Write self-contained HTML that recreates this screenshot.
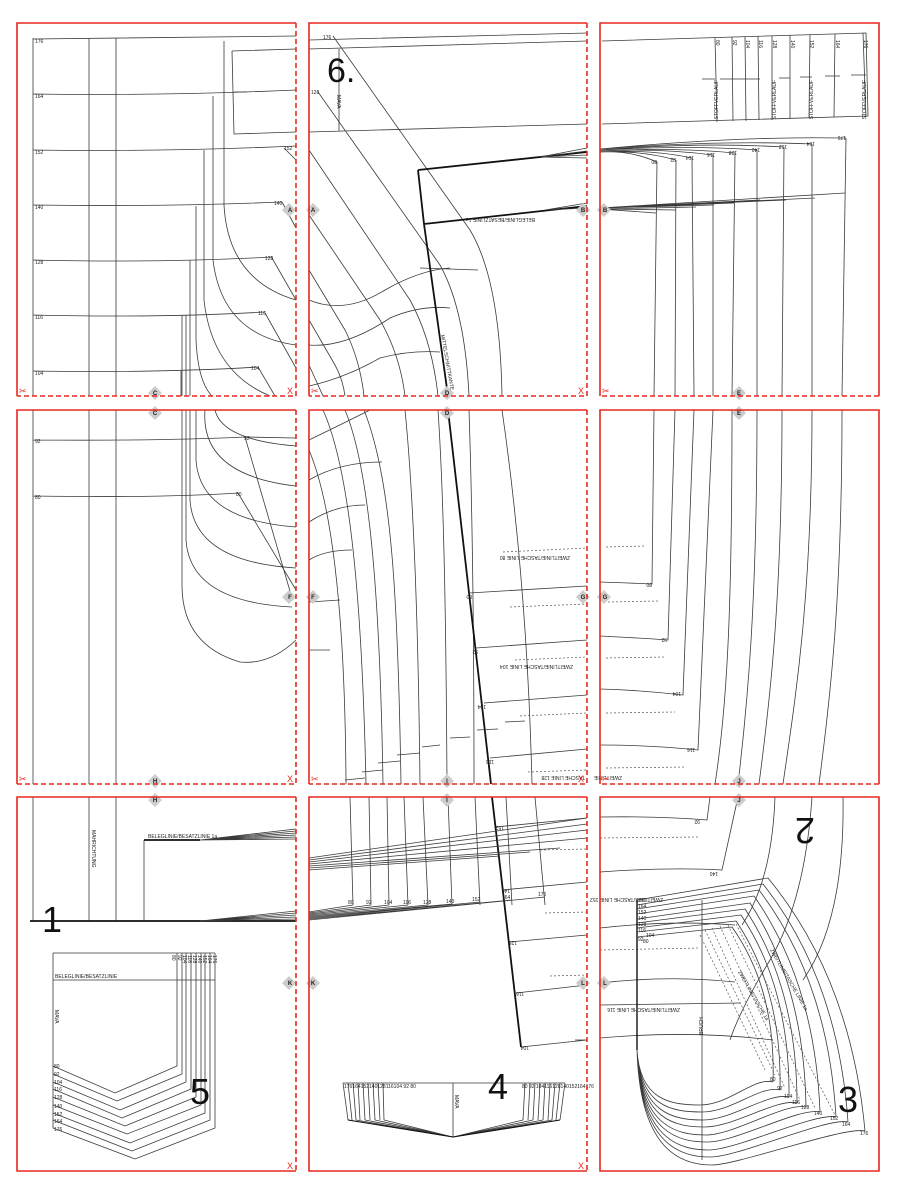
<!DOCTYPE html>
<html><head><meta charset="utf-8"><style>
html,body{margin:0;padding:0;background:#fff}
svg{display:block}
text{font-family:"Liberation Sans",sans-serif}
.l{fill:none;stroke:#3a3a3a;stroke-width:.8}
.t{fill:none;stroke:#111;stroke-width:1.8}
.d{fill:none;stroke:#555;stroke-width:.7;stroke-dasharray:2 2}
.rs{stroke:#e8281e;stroke-width:1.6;fill:none}
.rd{stroke:#e8281e;stroke-width:1.6;fill:none;stroke-dasharray:5 3}
.s{font-size:5px;fill:#222}
.m{fill:#ccc}
.ml{font-size:6px;font-weight:bold;fill:#222;text-anchor:middle}
.big{font-size:36px;fill:#111}
.x{font-size:9px;fill:#e8281e}
</style></head><body>
<svg width="900" height="1200" viewBox="0 0 900 1200" xmlns="http://www.w3.org/2000/svg">
<rect width="900" height="1200" fill="#fff"/>

<!-- ========== PANEL 1 ========== -->
<g>
<path class="l" d="M33,39 Q160,38 296,36 M33,94 Q160,96 296,90 M33,150 Q160,152 296,146 M33,205 Q160,207 282,202 M33,260 Q160,263 272,257 M33,315 Q160,318 265,312 M33,371 Q160,373 258,367"/>
<path class="l" d="M33,38 V396 M89,38 V396 M116,38 V396"/>
<path class="l" d="M232,51 L296,49 M232,51 L234,134 L296,132 M234,92 H247"/>
<path class="l" d="M224,41 V205 Q228,280 296,300 M213,96 V260 Q222,335 296,345 M204,150 V300 Q212,372 270,396 M196,206 V340 Q198,382 212,396 M190,260 V396 M186,315 V396 M182,315 V396 M181,371 V396"/>
<path class="l" d="M284,148 L296,160 M282,202 L296,228 M272,258 L296,300 M265,313 L296,368 M258,367 L275,396"/>
<text class="s" x="35" y="43">176</text><text class="s" x="35" y="98">164</text><text class="s" x="35" y="154">152</text><text class="s" x="35" y="209">140</text><text class="s" x="35" y="264">128</text><text class="s" x="35" y="319">116</text><text class="s" x="35" y="375">104</text>
<text class="s" x="284" y="150">152</text><text class="s" x="274" y="205">140</text><text class="s" x="265" y="260">128</text><text class="s" x="258" y="315">116</text><text class="s" x="251" y="370">104</text>
</g>

<!-- ========== PANEL 2 ========== -->
<g>
<path class="l" d="M309,40 L587,33 M309,49 L587,41 M309,132 L587,124 M339,49 V131"/>
<path class="l" d="M333,36 L470,230 Q500,280 502,396 M318,92 L440,265 Q465,310 469,396 M309,150 L410,300 Q432,340 438,396 M309,215 L380,320 Q400,355 405,396 M309,270 L345,330 Q360,360 364,396 M309,320 L335,365 Q343,380 345,396 M309,365 L323,396"/>
<path class="l" d="M309,300 Q345,315 385,290 Q420,270 450,268 M309,345 Q345,348 390,318 Q420,305 450,308 M309,386 Q345,378 380,358 Q410,350 440,352 M420,268 L478,270"/>
<path class="t" d="M418,170 L587,152 M424,224 L587,206 M418,170 L424,224 L448,396"/>
<path class="l" d="M540,157 L587,148 M540,157 L587,151 M540,157 L587,155 M540,157 L587,158 M545,210 L587,203 M545,210 L587,208"/>
<text class="big" x="327" y="82" style="font-size:34px">6.</text>
<text class="s" transform="translate(337,95) rotate(90)">MAVA</text>
<text class="s" x="323" y="39">176</text><text class="s" x="311" y="94">128</text>
<text class="s" transform="translate(535,218) rotate(180)">BELEGLINIE/BESATZLINIE 1a</text>
<text class="s" transform="translate(441,335) rotate(80)">MITTELSCHNITTKANTE</text>
</g>

<!-- ========== PANEL 3 ========== -->
<g>
<path class="l" d="M602,41 L866,33 L868,116 L602,124"/>
<path class="l" d="M715,38 L717,122 M732,37 L733,121 M745,37 L746,121 M758,36 L759,120 M772,36 L772,120 M790,35 L790,119 M810,35 L809,118 M835,34 L834,117 M863,33 L866,117"/>
<path class="l" d="M702,79 H715 M720,79 H760 M779,78 H790 M800,77 H812 M825,76 H840 M851,75 H866"/>
<g class="s"><text transform="translate(716,40) rotate(90)">80</text><text transform="translate(733,40) rotate(90)">92</text><text transform="translate(746,40) rotate(90)">104</text><text transform="translate(759,40) rotate(90)">116</text><text transform="translate(773,40) rotate(90)">128</text><text transform="translate(791,40) rotate(90)">140</text><text transform="translate(810,40) rotate(90)">152</text><text transform="translate(836,40) rotate(90)">164</text><text transform="translate(864,40) rotate(90)">176</text>
<text transform="translate(718,80) rotate(-90)" text-anchor="end">STOFFVERLAUF</text><text transform="translate(776,80) rotate(-90)" text-anchor="end">STOFFVERLAUF</text><text transform="translate(813,80) rotate(-90)" text-anchor="end">STOFFVERLAUF</text><text transform="translate(866,80) rotate(-90)" text-anchor="end">STOFFVERLAUF</text></g>
<path class="l" d="M600,152 Q630,150 657,162 M600,152 Q640,150 676,160 M600,152 Q650,149 692,158 M600,151 Q660,148 713,155 M600,151 Q670,147 735,153 M600,150 Q690,145 757,150 M600,150 Q700,142 784,147 M600,149 Q720,140 812,144 M600,149 Q740,136 842,138"/>
<path class="l" d="M657,162 L654,396 M676,160 L675,396 M692,158 L694,396 M713,155 L713,396 M735,153 L732,396 M757,150 L757,396 M784,147 L782,396 M812,144 L812,396 M846,138 L842,396 M842,138 H846"/>
<path class="l" d="M600,209 L656,213 M600,209 L676,210 M600,209 L696,207 M600,208 L714,205 M600,208 L734,203 M600,208 L760,200 M600,208 L786,200 M600,208 L815,198 M600,208 L845,193"/>
<g class="s"><text transform="translate(657,160) rotate(180)">80</text><text transform="translate(676,158) rotate(180)">92</text><text transform="translate(694,156) rotate(180)">104</text><text transform="translate(715,153) rotate(180)">116</text><text transform="translate(737,151) rotate(180)">128</text><text transform="translate(760,148) rotate(180)">140</text><text transform="translate(787,145) rotate(180)">152</text><text transform="translate(815,142) rotate(180)">164</text><text transform="translate(846,136) rotate(180)">176</text></g>
</g>

<!-- ========== PANEL 4 ========== -->
<g>
<path class="l" d="M33,410 V784 M89,410 V784 M116,410 V784 M33,440 Q160,441 245,437 L296,438 M33,496 Q160,498 238,493"/>
<path class="l" d="M215,410 Q222,440 296,446 M205,410 Q200,475 296,486 M196,410 V460 Q200,520 296,527 M190,410 V500 Q194,562 296,568 M186,410 V540 Q190,602 292,607 M182,410 V585 Q182,645 240,662 Q270,665 296,640"/>
<path class="l" d="M245,437 L292,598 M238,493 L296,590"/>
<text class="s" x="35" y="443">92</text><text class="s" x="35" y="499">80</text>
<text class="s" x="244" y="440">92</text><text class="s" x="236" y="496">80</text>
</g>

<!-- ========== PANEL 5 ========== -->
<g>
<path class="l" d="M309,450 C330,500 345,600 346,784 M323,410 C350,470 362,600 366,784 M345,410 C370,470 380,600 383,784 M364,410 C392,480 398,600 401,784 M405,410 C412,480 418,600 420,784 M438,410 C444,500 446,620 447,784 M469,410 C472,500 474,620 474,784 M502,410 C515,500 528,620 532,784"/>
<path class="t" d="M448,410 L491,784"/>
<path class="l" d="M309,440 Q340,425 370,410 M309,480 Q340,462 382,462 M309,522 Q335,505 365,505 M309,560 Q325,550 352,550 M309,602 L340,600 M309,650 L330,650"/>
<path class="l" d="M469,593 L587,586 M476,648 L587,640 M484,703 L587,695 M490,758 L587,749"/>
<path class="l" d="M345,780 L365,778 M362,772 L383,770 M378,763 L400,761 M397,755 L420,753 M422,747 L440,745 M450,738 L470,737 M477,730 L498,729 M505,722 L525,721"/>
<path class="d" d="M503,552 L587,548 M510,607 L587,604 M515,660 L587,657 M520,716 L587,713 M528,772 L587,770"/>
<g class="s"><text transform="translate(570,556) rotate(180)">ZWEITLINIE/TASCHE LINIE 80</text><text transform="translate(573,665) rotate(180)">ZWEITLINIE/TASCHE LINIE 104</text><text transform="translate(585,776) rotate(180)">TASCHE LINIE 128</text>
<text transform="translate(472,595) rotate(180)">80</text><text transform="translate(478,650) rotate(180)">92</text><text transform="translate(486,705) rotate(180)">104</text><text transform="translate(494,760) rotate(180)">116</text></g>
</g>

<!-- ========== PANEL 6 ========== -->
<g>
<path class="l" d="M654,410 L652,584 Q630,583 600,582 M675,410 L668,640 Q640,638 600,636 M694,410 L683,695 Q640,690 600,689 M713,410 L698,750 Q650,745 600,745"/>
<path class="l" d="M732,410 C732,600 728,700 715,784 M757,410 C757,600 748,700 738,784 M782,410 C782,600 770,700 759,784 M812,410 C812,600 795,700 783,784 M842,410 C842,600 830,700 819,784"/>
<path class="d" d="M606,547 L645,546 M608,602 L658,601 M606,658 L665,657 M606,713 L675,712 M606,768 L685,767"/>
<g class="s"><text transform="translate(652,583) rotate(180)">80</text><text transform="translate(667,638) rotate(180)">92</text><text transform="translate(681,692) rotate(180)">104</text><text transform="translate(695,748) rotate(180)">116</text><text transform="translate(622,776) rotate(180)">ZWEITLINIE</text></g>
</g>

<!-- ========== PANEL 7 ========== -->
<g>
<path class="l" d="M33,797 V921 M89,797 V921 M116,797 V921 M144,840 V921"/>
<path class="t" d="M30,921 L296,921 M144,840 L200,840"/>
<path class="l" d="M200,840 L296,829 M200,840 L296,831 M200,840 L296,833 M200,840 L296,835 M200,840 L296,837 M200,840 L296,839 M200,921 L296,911 M200,921 L296,913 M200,921 L296,915 M200,921 L296,917 M200,921 L296,919"/>
<text class="s" x="148" y="838">BELEGLINIE/BESATZLINIE 1a</text>
<text class="s" transform="translate(92,830) rotate(90)">MAHRICHTUNG</text>
<text class="big" x="42" y="932">1</text>
<!-- pocket 5 -->
<path class="l" d="M53,953 H215 M53,980 H215 M53,953 V1128"/>
<path class="l" d="M53,1066 L115,1093 L177,1066 V953 M53,1074 L117,1101 L182,1074 V953 M53,1082 L120,1110 L186,1082 V953 M53,1089 L122,1118 L191,1089 V953 M53,1097 L125,1126 L196,1097 V953 M53,1105 L127,1134 L201,1105 V953 M53,1113 L130,1143 L205,1113 V953 M53,1120 L132,1151 L210,1120 V953 M53,1128 L135,1159 L215,1128 V953"/>
<text class="s" x="55" y="978">BELEGLINIE/BESATZLINIE</text>
<text class="s" transform="translate(55,1010) rotate(90)">MAVA</text>
<g class="s"><text x="54" y="1068">80</text><text x="54" y="1076">92</text><text x="54" y="1084">104</text><text x="54" y="1091">116</text><text x="54" y="1099">128</text><text x="54" y="1108">140</text><text x="54" y="1116">152</text><text x="54" y="1123">164</text><text x="54" y="1131">176</text>
<text transform="translate(172,955) rotate(90)">80</text><text transform="translate(178,955) rotate(90)">92</text><text transform="translate(183,955) rotate(90)">104</text><text transform="translate(188,955) rotate(90)">116</text><text transform="translate(193,955) rotate(90)">128</text><text transform="translate(198,955) rotate(90)">140</text><text transform="translate(203,955) rotate(90)">152</text><text transform="translate(208,955) rotate(90)">164</text><text transform="translate(213,955) rotate(90)">176</text></g>
<text class="big" x="190" y="1104">5</text>
</g>

<!-- ========== PANEL 8 ========== -->
<g>
<path class="l" d="M350,797 L353,905 M369,797 L371,905 M387,797 L389,905 M404,797 L408,905 M423,797 L428,905 M448,797 L452,905 M475,797 L480,905 M506,797 L512,905 M535,797 L545,905"/>
<path class="t" d="M492,797 L521,1047"/>
<path class="l" d="M309,858 L587,818 M309,860 L587,824 M309,862 L587,830 M309,864 L587,838 M309,866 L560,848 M309,868 L530,852 M309,870 L500,856"/>
<path class="l" d="M309,912 L353,905 M309,913 L371,905 M309,914 L389,905 M309,915 L408,905 M309,916 L428,905 M309,917 L452,904 M309,918 L480,902 M309,919 L512,900 M309,920 L545,897"/>
<path class="l" d="M496,827 L587,818 M502,890 L587,882 M509,942 L587,935 M516,993 L587,985 M521,1047 L587,1040 M575,1040 H587"/>
<path class="d" d="M540,850 L587,849 M545,913 L587,912 M550,976 L587,975"/>
<g class="s"><text x="348" y="904">80</text><text x="366" y="904">92</text><text x="384" y="904">104</text><text x="403" y="904">116</text><text x="423" y="904">128</text><text x="446" y="903">140</text><text x="472" y="901">152</text><text x="502" y="899">164</text><text x="538" y="896">176</text>
<text transform="translate(504,826) rotate(180)">152</text><text transform="translate(510,889) rotate(180)">140</text><text transform="translate(517,941) rotate(180)">128</text><text transform="translate(524,992) rotate(180)">116</text><text transform="translate(529,1046) rotate(180)">104</text></g>
<!-- piece 4 -->
<path class="l" d="M343,1083 H565 M453,1083 V1137"/>
<path class="l" d="M343,1083 L348,1120 M348,1083 L352,1120 M353,1083 L356,1120 M358,1083 L360,1120 M363,1083 L365,1120 M368,1083 L370,1120 M373,1083 L375,1120 M378,1083 L380,1120 M383,1083 L384,1120"/>
<path class="l" d="M565,1083 L560,1120 M560,1083 L556,1120 M555,1083 L552,1120 M550,1083 L548,1120 M545,1083 L543,1120 M540,1083 L538,1120 M535,1083 L533,1120 M530,1083 L528,1120 M525,1083 L523,1120"/>
<path class="l" d="M348,1120 L453,1137 M356,1120 L453,1137 M365,1120 L453,1137 M375,1120 L453,1137 M384,1120 L453,1137 M560,1120 L453,1137 M552,1120 L453,1137 M543,1120 L453,1137 M533,1120 L453,1137 M523,1120 L453,1137"/>
<path class="t" style="stroke-width:1.1" d="M348,1120 L453,1137 L560,1120"/>
<text class="s" transform="translate(455,1095) rotate(90)">MAVA</text>
<g class="s"><text x="344" y="1088">176164152140128116104 92 80</text><text x="522" y="1088">80 92 104116128140152164176</text></g>
<text class="big" x="488" y="1099">4</text>
</g>

<!-- ========== PANEL 9 ========== -->
<g>
<path class="l" d="M710,797 L707,820 Q660,816 600,817 M738,797 L722,870 Q670,867 600,872"/>
<path class="d" d="M600,838 L700,837 M600,950 L700,948"/>
<path class="l" d="M775,797 Q772,880 742,925 M812,797 Q805,900 770,960 Q740,1010 730,1040 M843,797 Q845,920 803,980"/>
<path class="l" d="M600,928 Q670,920 735,925 M600,983 Q670,975 735,982 M600,1005 L740,1003 M600,1038 Q690,1030 773,1040 M702,900 V1160"/>
<path class="t" style="stroke-width:1.4" d="M637,900 V1050"/>
<path class="l" d="M637,937 L732,927 Q776,989 773,1082 M637,932 L736,921 Q782,989 780,1090 M637,928 L741,915 Q790,988 789,1097 M637,923 L745,909 Q797,987 797,1103 M637,919 L750,903 Q804,985 806,1107 M637,914 L754,896 Q815,983 820,1112 M637,909 L759,890 Q828,981 836,1117 M637,905 L763,884 Q838,979 848,1122 M637,900 L768,878 Q851,979 865,1131"/>
<path class="l" d="M637,1050 C640,1100 670,1105 700,1105 S753,1077 773,1082 M637,1050 C640,1107 672,1112 702,1112 S760,1085 780,1090 M637,1050 C640,1114 674,1120 703,1120 S769,1092 789,1097 M637,1050 C640,1121 676,1127 705,1127 S777,1098 797,1103 M637,1050 C640,1128 678,1135 706,1135 S786,1102 806,1107 M637,1050 C640,1135 680,1142 708,1142 S800,1107 820,1112 M637,1050 C640,1142 682,1150 709,1150 S816,1112 836,1117 M637,1050 C640,1149 684,1157 711,1157 S828,1117 848,1122 M637,1050 C640,1156 686,1165 712,1165 S845,1126 865,1131"/>
<path class="d" d="M705,930 L775,1075 M712,928 L785,1088 M720,926 L800,1100 M728,925 L815,1108 M736,924 L835,1115 M700,935 L765,1070"/>
<g class="s"><text x="638" y="902">176</text><text x="638" y="908">164</text><text x="638" y="914">152</text><text x="638" y="920">140</text><text x="638" y="926">128</text><text x="638" y="932">116</text><text x="646" y="937">104</text><text x="638" y="941">92</text><text x="643" y="943">80</text>
<text x="770" y="1081">80</text><text x="777" y="1090">92</text><text x="784" y="1098">104</text><text x="792" y="1104">116</text><text x="801" y="1109">128</text><text x="814" y="1115">140</text><text x="830" y="1120">152</text><text x="842" y="1126">164</text><text x="860" y="1135">176</text>
<text transform="translate(663,898) rotate(180)">ZWEITLINIE/TASCHE LINIE 152</text><text transform="translate(680,1008) rotate(180)">ZWEITLINIE/TASCHE LINIE 116</text>
<text transform="translate(703,1035) rotate(-90)">BRUCH</text>
<text transform="translate(770,950) rotate(60)">ZWEITLINIE/TASCHE LINIE 1a</text>
<text transform="translate(738,972) rotate(60)">ZWEITLINIE/TASCHE 1a</text>
<text transform="translate(700,820) rotate(180)">92</text><text transform="translate(718,872) rotate(180)">140</text></g>
<text class="big" transform="translate(815,818) rotate(180)">2</text>
<text class="big" x="838" y="1112">3</text>
</g>

<!-- ========== MARKERS ========== -->
<g>
<path class="m" d="M289,203 l7,7 l-7,7 l-7,-7z M313,203 l7,7 l-7,7 l-7,-7z M583,203 l7,7 l-7,7 l-7,-7z M604,203 l7,7 l-7,7 l-7,-7z
M155,386 l7,7 l-7,7 l-7,-7z M155,406 l7,7 l-7,7 l-7,-7z M447,386 l7,7 l-7,7 l-7,-7z M447,406 l7,7 l-7,7 l-7,-7z M739,386 l7,7 l-7,7 l-7,-7z M739,406 l7,7 l-7,7 l-7,-7z
M289,590 l7,7 l-7,7 l-7,-7z M313,590 l7,7 l-7,7 l-7,-7z M583,590 l7,7 l-7,7 l-7,-7z M604,590 l7,7 l-7,7 l-7,-7z
M155,774 l7,7 l-7,7 l-7,-7z M155,793 l7,7 l-7,7 l-7,-7z M447,774 l7,7 l-7,7 l-7,-7z M447,793 l7,7 l-7,7 l-7,-7z M739,774 l7,7 l-7,7 l-7,-7z M739,793 l7,7 l-7,7 l-7,-7z
M289,976 l7,7 l-7,7 l-7,-7z M313,976 l7,7 l-7,7 l-7,-7z M583,976 l7,7 l-7,7 l-7,-7z M604,976 l7,7 l-7,7 l-7,-7z"/>
<g class="ml"><text x="290" y="212">A</text><text x="313" y="212">A</text><text x="583" y="212">B</text><text x="605" y="212">B</text>
<text x="155" y="395">C</text><text x="155" y="415">C</text><text x="447" y="395">D</text><text x="447" y="415">D</text><text x="739" y="395">E</text><text x="739" y="415">E</text>
<text x="290" y="599">F</text><text x="313" y="599">F</text><text x="583" y="599">G</text><text x="605" y="599">G</text>
<text x="155" y="783">H</text><text x="155" y="802">H</text><text x="447" y="783">I</text><text x="447" y="802">I</text><text x="739" y="783">J</text><text x="739" y="802">J</text>
<text x="290" y="985">K</text><text x="313" y="985">K</text><text x="583" y="985">L</text><text x="605" y="985">L</text></g>
</g>

<!-- ========== BORDERS ========== -->
<g>
<!-- row 1 -->
<path class="rs" d="M17,396 V23 H296"/><path class="rd" d="M296,23 V396 H17"/>
<path class="rs" d="M309,396 V23 H587"/><path class="rd" d="M587,23 V396 H309"/>
<path class="rs" d="M600,396 V23 H879 V396"/><path class="rd" d="M879,396 H600"/>
<!-- row 2 -->
<path class="rs" d="M17,784 V410 H296"/><path class="rd" d="M296,410 V784 H17"/>
<path class="rs" d="M309,784 V410 H587"/><path class="rd" d="M587,410 V784 H309"/>
<path class="rs" d="M600,784 V410 H879 V784"/><path class="rd" d="M879,784 H600"/>
<!-- row 3 -->
<path class="rs" d="M296,1171 H17 V797 H296"/><path class="rd" d="M296,797 V1171"/>
<path class="rs" d="M587,1171 H309 V797 H587"/><path class="rd" d="M587,797 V1171"/>
<path class="rs" d="M600,797 H879 V1171 H600 Z"/>
</g>
<g class="x">
<text x="19" y="394">✂</text><text x="287" y="394">X</text><text x="311" y="394">✂</text><text x="578" y="394">X</text><text x="602" y="394">✂</text>
<text x="19" y="782">✂</text><text x="287" y="782">X</text><text x="311" y="782">✂</text><text x="578" y="782">X</text><text x="602" y="782">✂</text>
<text x="287" y="1169">X</text><text x="578" y="1169">X</text>
</g>
</svg>
</body></html>
